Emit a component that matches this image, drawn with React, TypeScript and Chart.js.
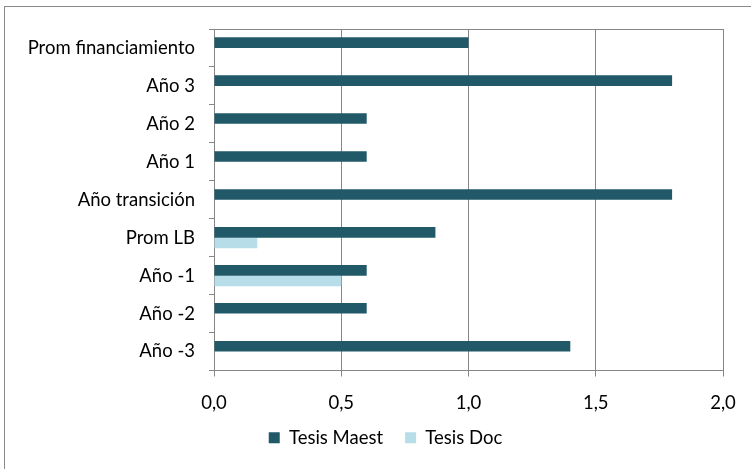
import React, { useEffect, useRef } from "react";
import { Chart, registerables } from "chart.js";

Chart.register(...registerables);

const categories = [
  "Prom financiamiento",
  "Año 3",
  "Año 2",
  "Año 1",
  "Año transición",
  "Prom LB",
  "Año -1",
  "Año -2",
  "Año -3",
];
const tesisMaest = [1.0, 1.8, 0.6, 0.6, 1.8, 0.87, 0.6, 0.6, 1.4];
const tesisDoc = [0, 0, 0, 0, 0, 0.17, 0.5, 0, 0];
const seriesNames = ["Tesis Maest", "Tesis Doc"];

const FONT = "Lato, 'Open Sans', sans-serif";
const FS = 18.5;
const GRID = "#868686";

const plotBorder = {
  id: "plotBorder",
  afterLayout(chart: any) {
    const lg = chart.legend;
    if (lg) {
      lg.left += 24;
      lg.right += 24;
      lg.top -= 6;
      lg.bottom -= 6;
    }
  },
  afterDraw(chart: any) {
    const { ctx, chartArea } = chart;
    ctx.save();
    ctx.strokeStyle = GRID;
    ctx.lineWidth = 1;
    ctx.beginPath();
    ctx.moveTo(chartArea.left, chartArea.top + 0.5);
    ctx.lineTo(chartArea.right, chartArea.top + 0.5);
    ctx.stroke();
    ctx.restore();
  },
};

export default function App() {
  const ref = useRef<HTMLCanvasElement>(null);
  useEffect(() => {
    document.body.style.margin = "0";
    const chart = new Chart(ref.current!, {
      type: "bar",
      data: {
        labels: categories,
        datasets: [
          {
            label: seriesNames[0],
            data: tesisMaest,
            backgroundColor: "#215968",
            borderWidth: 0,
            barPercentage: 1,
            categoryPercentage: 0.56,
          },
          {
            label: seriesNames[1],
            data: tesisDoc,
            backgroundColor: "#B7DEE8",
            borderWidth: 0,
            barPercentage: 1,
            categoryPercentage: 0.56,
          },
        ],
      },
      options: {
        indexAxis: "y",
        animation: false,
        responsive: false,
        maintainAspectRatio: false,
        layout: { padding: { left: 0, top: 29, right: 28, bottom: 6 } },
        plugins: {
          legend: {
            position: "bottom",
            labels: {
              boxWidth: 11,
              boxHeight: 11,
              padding: 22,
              color: "#000",
              font: { family: FONT, size: FS },
            },
          },
          tooltip: { enabled: false },
        },
        scales: {
          x: {
            min: 0,
            max: 2,
            ticks: {
              stepSize: 0.5,
              color: "#000",
              font: { family: FONT, size: FS },
              padding: 15,
              callback: (v: any) => Number(v).toFixed(1).replace(".", ","),
            },
            grid: { color: GRID, tickLength: 6, lineWidth: 1 },
            border: { color: GRID },
            afterFit: (s: any) => {
              s.height = 42;
            },
          },
          y: {
            ticks: {
              color: "#000",
              font: { family: FONT, size: FS },
              padding: 14,
            },
            grid: { color: GRID, drawOnChartArea: false, tickLength: 5, offset: true },
            border: { color: GRID },
            afterFit: (s: any) => {
              s.width = 214;
            },
          },
        },
      },
      plugins: [plotBorder],
    } as any);
    return () => chart.destroy();
  }, []);
  return (
    <div style={{ position: "relative", width: 751, height: 469, overflow: "hidden", background: "#fff" }}>
      <div
        style={{
          position: "absolute",
          left: 4,
          top: 6,
          width: 800,
          height: 500,
          border: "1px solid #898989",
          boxSizing: "border-box",
        }}
      />
      <canvas ref={ref} width={751} height={469} style={{ position: "absolute", left: 0, top: 0 }} />
    </div>
  );
}
